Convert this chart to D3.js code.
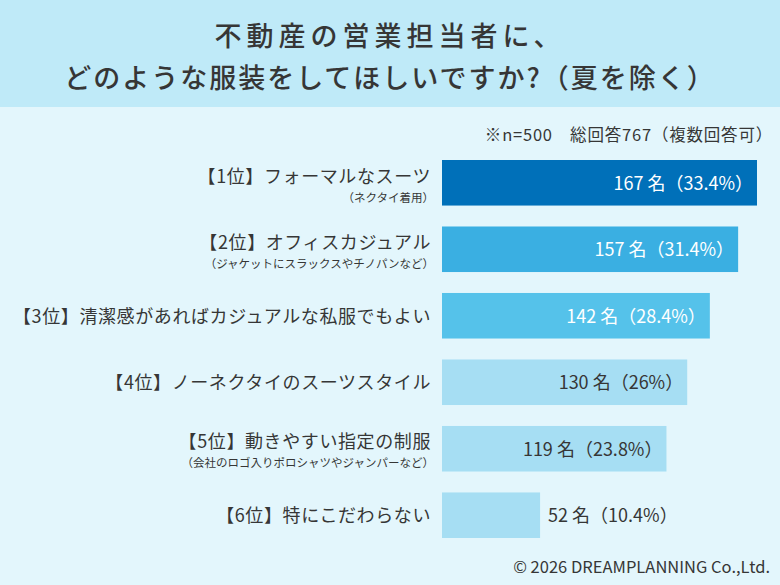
<!DOCTYPE html>
<html>
<head>
<meta charset="utf-8">
<script src="https://cdn.jsdelivr.net/npm/d3@7"></script>
<style>
  html, body { margin: 0; padding: 0; background: #e3f6fc; }
  svg { display: block; font-family: "Noto Sans CJK JP", "Noto Sans", sans-serif; }
</style>
</head>
<body>
<svg width="780" height="585"></svg>
<script>
// datos
const titleLines = ["不動産の営業担当者に、", "どのような服装をしてほしいですか?（夏を除く）"];
const note = "※n=500　総回答767（複数回答可）";
const credit = "© 2026 DREAMPLANNING Co.,Ltd.";
const labels = [
  "【1位】フォーマルなスーツ",
  "【2位】オフィスカジュアル",
  "【3位】清潔感があればカジュアルな私服でもよい",
  "【4位】ノーネクタイのスーツスタイル",
  "【5位】動きやすい指定の制服",
  "【6位】特にこだわらない"
];
const subLabels = [
  "（ネクタイ着用）",
  "（ジャケットにスラックスやチノパンなど）",
  "",
  "",
  "（会社のロゴ入りポロシャツやジャンパーなど）",
  ""
];
const counts = [167, 157, 142, 130, 119, 52];
const percents = ["33.4", "31.4", "28.4", "26", "23.8", "10.4"];

const data = labels.map((l, i) => ({label: l, sub: subLabels[i], n: counts[i], p: percents[i]}));

const svg = d3.select("svg");
const W = 780, H = 585;
const ink = "#363636";

// fondo
svg.append("rect").attr("width", W).attr("height", H).attr("fill", "#e3f6fc");
svg.append("rect").attr("width", W).attr("height", 107).attr("fill", "#bfeaf8");

// titulo (la 1a linea va mas espaciada, como en el original)
svg.selectAll(".titulo")
  .data(titleLines)
  .enter().append("text")
  .attr("class", "titulo")
  .attr("x", W / 2)
  .attr("y", (d, i) => 46 + i * 42)
  .attr("text-anchor", "middle")
  .attr("font-size", 27)
  .attr("font-weight", 500)
  .attr("letter-spacing", (d, i) => i === 0 ? 5 : 2)
  .attr("fill", ink)
  .text(d => d);

// nota n=500
svg.append("text")
  .attr("x", 773).attr("y", 141)
  .attr("text-anchor", "end")
  .attr("font-size", 16.5)
  .attr("letter-spacing", 0.8)
  .attr("fill", ink)
  .text(note);

// escalas
const x = d3.scaleLinear()
  .domain([0, 167])
  .range([442, 757]);

const y = d3.scaleBand()
  .domain(data.map(d => d.label))
  .range([160, 538])
  .paddingInner(0.315)
  .paddingOuter(0);

const color = d3.scaleOrdinal()
  .domain(data.map(d => d.label))
  .range(["#0070b9", "#3aafe2", "#55c2ea", "#a6def3", "#a6def3", "#a6def3"]);

// barras
svg.selectAll(".bar")
  .data(data)
  .enter().append("rect")
  .attr("class", "bar")
  .attr("x", x(0))
  .attr("y", d => y(d.label))
  .attr("width", d => x(d.n) - x(0))
  .attr("height", y.bandwidth())
  .attr("fill", d => color(d.label));

// etiquetas de la izquierda
svg.selectAll(".etiqueta")
  .data(data)
  .enter().append("text")
  .attr("class", "etiqueta")
  .attr("x", 431)
  .attr("y", d => d.sub ? y(d.label) + 22.5 : y(d.label) + y.bandwidth() / 2 + 7)
  .attr("text-anchor", "end")
  .attr("font-size", 18)
  .attr("font-weight", 400)
  .attr("letter-spacing", 0.6)
  .attr("fill", ink)
  .text(d => d.label);

svg.selectAll(".sub")
  .data(data.filter(d => d.sub))
  .enter().append("text")
  .attr("class", "sub")
  .attr("x", 434)
  .attr("y", d => y(d.label) + 41.5)
  .attr("text-anchor", "end")
  .attr("font-size", 11.5)
  .attr("fill", ink)
  .text(d => d.sub);

// valores
svg.selectAll(".valor")
  .data(data)
  .enter().append("text")
  .attr("class", "valor")
  .each(function(d, i) {
    const inside = x(d.n) - x(0) > 150;
    d3.select(this)
      .attr("x", inside ? x(d.n) - 4 : x(d.n) + 8)
      .attr("text-anchor", inside ? "end" : "start")
      .attr("fill", i < 3 ? "#ffffff" : ink);
  })
  .attr("y", d => y(d.label) + y.bandwidth() / 2 + 7)
  .attr("font-size", 18)
  .attr("font-weight", 400)
  .text(d => `${d.n} 名（${d.p}%）`);

// copyright
svg.append("text")
  .attr("x", 770).attr("y", 573)
  .attr("text-anchor", "end")
  .attr("font-size", 16.5)
  .attr("fill", ink)
  .text(credit);
</script>
</body>
</html>
